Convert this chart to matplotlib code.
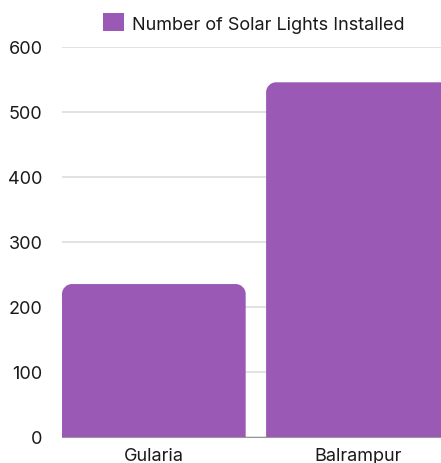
import matplotlib
matplotlib.use("Agg")
import matplotlib.pyplot as plt
from matplotlib.path import Path
from matplotlib.patches import PathPatch, Patch

# data
locations = ["Gularia", "Balrampur"]
lights_installed = [235, 545]
series_label = "Number of Solar Lights Installed"
y_ticks = [0, 100, 200, 300, 400, 500, 600]

BAR_COLOR = "#9b59b6"
W, H, DPI = 441, 464, 100

plt.rcParams["font.family"] = ["Inter", "DejaVu Sans"]

fig = plt.figure(figsize=(W / DPI, H / DPI), dpi=DPI)
left, right, top, bottom = 62, 441, 47.5, 438
ax = fig.add_axes([left / W, (H - bottom) / H, (right - left) / W, (bottom - top) / H])

bars = ax.bar(range(len(locations)), lights_installed, width=0.9, color=BAR_COLOR, zorder=2)
ax.set_xlim(-0.45, 1.407)
ax.set_ylim(0, 600)
ax.set_yticks(y_ticks)
ax.set_xticks(range(len(locations)))
ax.set_xticklabels(locations)

ax.yaxis.grid(True, color="#dddddd", linewidth=1.2, zorder=0)
ax.set_axisbelow(True)
for side in ["top", "right", "left"]:
    ax.spines[side].set_visible(False)
ax.spines["bottom"].set_color("#999999")
ax.spines["bottom"].set_zorder(1)
ax.tick_params(axis="both", length=0, labelsize=13, colors="#1a1a1a")
ax.tick_params(axis="y", pad=14)
ax.tick_params(axis="x", pad=7)

# swap plain rectangles for ones with rounded top corners
fig.canvas.draw()
to_data = ax.transData.inverted()
radius_px = 10
x0, y0 = to_data.transform((0, 0))
x1, y1 = to_data.transform((radius_px, radius_px))
rx, ry = x1 - x0, y1 - y0
k = 0.5523
for bar in bars:
    bx, bw, bh = bar.get_x(), bar.get_width(), bar.get_height()
    xl, xr = bx, bx + bw
    verts = [
        (xl, 0), (xl, bh - ry),
        (xl, bh - ry + k * ry), (xl + rx - k * rx, bh), (xl + rx, bh),
        (xr - rx, bh),
        (xr - rx + k * rx, bh), (xr, bh - ry + k * ry), (xr, bh - ry),
        (xr, 0), (xl, 0),
    ]
    codes = [Path.MOVETO, Path.LINETO,
             Path.CURVE4, Path.CURVE4, Path.CURVE4,
             Path.LINETO,
             Path.CURVE4, Path.CURVE4, Path.CURVE4,
             Path.LINETO, Path.CLOSEPOLY]
    ax.add_patch(PathPatch(Path(verts, codes), facecolor=BAR_COLOR, edgecolor="none", zorder=2))
    bar.set_visible(False)

handle = Patch(facecolor=BAR_COLOR, edgecolor="none")
ax.legend([handle], [series_label], loc="center", bbox_to_anchor=(254 / W, (H - 24) / H),
          bbox_transform=fig.transFigure, frameon=False, fontsize=13,
          handlelength=1.15, handleheight=1.15, handletextpad=0.45, labelcolor="#1a1a1a")

fig.savefig("out.png", dpi=DPI)
